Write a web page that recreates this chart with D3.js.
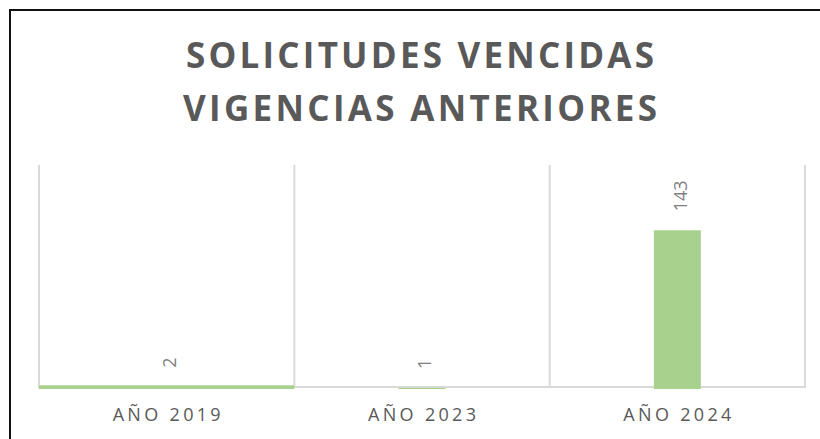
<!DOCTYPE html>
<html>
<head>
    <meta charset="utf-8">
    <script src="https://cdn.jsdelivr.net/npm/d3@7/dist/d3.min.js"></script>
    <style type="text/css">
        body { margin: 0; background: white; }
        svg { display: block; }

        .title {
            font-family: "Open Sans", sans-serif;
            font-weight: bold;
            font-size: 35px;
            fill: #595959;
            text-anchor: middle; }

        .grid line {
            stroke: #d9d9d9;
            stroke-width: 2; }

        .bar {
            fill: #a9d18e; }

        .xlabel {
            font-family: "Open Sans", sans-serif;
            font-size: 18px;
            fill: #595959;
            text-anchor: middle; }

        .value {
            font-family: "Open Sans", sans-serif;
            font-size: 18px;
            fill: #808080;
            text-anchor: start; }
    </style>
</head>
<body>
    <div id="chart"></div>

    <script type="text/javascript">
        var categories = ["AÑO 2019", "AÑO 2023", "AÑO 2024"];
        var values = [2, 1, 143];
        var titleLines = ["SOLICITUDES VENCIDAS", "VIGENCIAS ANTERIORES"];

        var width = 820, height = 439;
        var plot = { left: 39, right: 805, top: 165, bottom: 389 };

        var svg = d3.select("#chart").append("svg")
            .attr("width", width)
            .attr("height", height);

        // chart frame (runs off the right and bottom of the picture)
        svg.append("rect")
            .attr("x", 10)
            .attr("y", 10)
            .attr("width", width + 20)
            .attr("height", height + 20)
            .attr("fill", "white")
            .attr("stroke", "#111")
            .attr("stroke-width", 2);

        // title
        svg.selectAll(".title")
            .data(titleLines)
            .enter().append("text")
            .attr("class", "title")
            .attr("x", 420)
            .attr("y", function (d, i) { return 68 + i * 53; })
            .attr("textLength", function (d, i) { return i === 0 ? 468 : 474; })
            .attr("lengthAdjust", "spacing")
            .text(function (d) { return d; });

        var x = d3.scaleBand()
            .domain(categories)
            .range([plot.left, plot.right]);

        var y = d3.scaleLinear()
            .domain([0, 200])
            .range([plot.bottom, plot.bottom - 222]);

        // vertical gridlines on the category edges
        var edges = categories.map(function (d) { return x(d); }).concat([plot.right]);
        var grid = svg.append("g").attr("class", "grid");
        grid.selectAll("line.v")
            .data(edges)
            .enter().append("line")
            .attr("class", "v")
            .attr("x1", function (d) { return d; })
            .attr("x2", function (d) { return d; })
            .attr("y1", plot.top)
            .attr("y2", plot.bottom - 2);

        // baseline
        grid.append("line")
            .attr("x1", plot.left - 1)
            .attr("x2", plot.right + 1)
            .attr("y1", plot.bottom - 2)
            .attr("y2", plot.bottom - 2);

        // bars: the first category spans its whole band in the original
        var barWidth = function (d, i) { return i === 0 ? x.bandwidth() : x.bandwidth() * 0.184; };
        var data = categories.map(function (c, i) { return { name: c, value: values[i] }; });

        svg.selectAll(".bar")
            .data(data)
            .enter().append("rect")
            .attr("class", "bar")
            .attr("x", function (d, i) { return x(d.name) + (x.bandwidth() - barWidth(d, i)) / 2; })
            .attr("y", function (d, i) { return y(d.value) - (i === 0 ? 1.5 : 0); })
            .attr("width", barWidth)
            .attr("height", function (d, i) { return y(0) - y(d.value) + (i === 0 ? 1.5 : 0); });

        // value labels, rotated
        svg.selectAll(".value")
            .data(data)
            .enter().append("text")
            .attr("class", "value")
            .attr("transform", function (d) {
                return "translate(" + (x(d.name) + x.bandwidth() / 2 + 3) + "," + (y(d.value) - 19) + ") rotate(-90)";
            })
            .attr("dy", "0.35em")
            .text(function (d) { return d.value; });

        // category labels
        svg.selectAll(".xlabel")
            .data(categories)
            .enter().append("text")
            .attr("class", "xlabel")
            .attr("x", function (d) { return x(d) + x.bandwidth() / 2; })
            .attr("y", 421)
            .attr("textLength", 108)
            .attr("lengthAdjust", "spacing")
            .text(function (d) { return d; });
    </script>
</body>
</html>
